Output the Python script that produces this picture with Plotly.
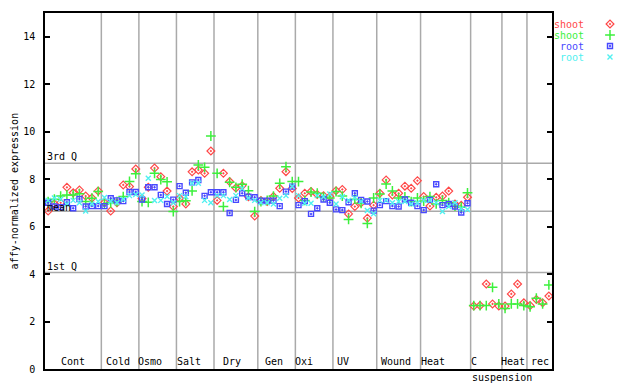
import plotly.graph_objects as go

# ---------------- data ----------------
groups = ["Cont", "Cold", "Osmo", "Salt", "Dry", "Gen", "Oxi", "UV", "Wound", "Heat", "C", "Heat", "rec"]
group_sizes = [9, 6, 6, 6, 7, 6, 6, 7, 7, 8, 5, 4, 4]

shoot_a = [6.65, 6.95, 7.00, 7.65, 7.42, 7.54, 7.28, 7.20, 7.50,
           7.00, 6.65, 7.00, 7.75, 7.68, 8.42,
           7.18, 7.65, 8.46, 8.10, 7.49, 6.84,
           7.19, 6.95, 8.30, 8.38, 8.24, 9.18,
           7.10, 8.24, 7.89, 7.62, 7.72, 7.25, 6.44,
           7.10, 7.05, 7.26, 7.61, 8.31, 7.60,
           7.20, 7.40, 7.47, 7.35, 7.30, 7.26,
           7.51, 7.56, 6.53, 6.84, 7.00, 6.35, 6.90,
           7.40, 7.96, 7.33, 7.40, 7.70, 7.61, 7.93,
           7.26, 6.86, 7.23, 7.28, 7.49, 6.95, 6.90, 7.23,
           2.65, 2.67, 3.58, 2.74, 2.65,
           2.65, 3.16, 3.58, 2.79,
           2.67, 2.93, 2.79, 3.07]
shoot_b = [7.05, 7.15, 7.28, 7.33, 7.33, 7.38, 7.05, 7.19, 7.47,
           6.95, 7.00, 7.05, 7.26, 7.90, 8.22,
           7.05, 7.02, 8.24, 7.98, 7.88, 6.63,
           7.05, 7.08, 7.50, 8.59, 8.49, 9.81,
           8.24, 6.84, 7.86, 7.65, 7.78, 7.51, 6.63,
           7.05, 7.10, 7.28, 7.82, 8.52, 7.89,
           7.89, 7.10, 7.45, 7.40, 7.24, 7.20,
           7.47, 7.28, 6.30, 7.15, 6.98, 6.13, 7.20,
           7.37, 7.79, 7.50, 7.20, 7.25, 7.05, 7.20,
           7.07, 7.26, 6.95, 7.10, 7.00, 6.86, 6.81, 7.42,
           2.67, 2.67, 2.67, 3.44, 2.74,
           2.55, 2.74, 2.74, 2.67,
           2.62, 2.98, 2.74, 3.54]
root_a = [7.00, 6.84, 6.81, 7.02, 6.77, 7.16, 6.84, 6.86, 6.86,
          6.86, 7.19, 7.10, 7.07, 7.45, 7.45,
          7.14, 7.65, 7.65, 7.33, 6.95, 7.13,
          7.70, 7.42, 7.86, 7.96, 7.29, 7.44,
          7.44, 7.44, 6.57, 7.12, 7.40, 7.26, 7.23,
          7.09, 7.09, 7.09, 6.86, 7.47, 7.68,
          6.90, 7.07, 6.53, 6.77, 7.14, 7.00,
          6.72, 6.69, 7.02, 7.40, 7.12, 7.05, 6.67,
          6.90, 7.07, 6.86, 6.84, 7.14, 7.00, 6.86,
          6.69, 7.12, 7.78, 6.90, 6.95, 6.84, 6.59, 6.98,
          None, None, None, None, None,
          None, None, None, None,
          None, None, None, None]
root_b = [7.10, 7.20, 7.15, 6.95, 7.10, 7.00, 6.65, 6.95, 7.05,
          7.22, 7.05, 7.00, 7.15, 7.30, 7.35,
          7.33, 8.03, 7.09, 7.10, 7.26, 7.00,
          7.30, 7.25, 7.82, 7.82, 7.10, 7.00,
          7.30, 7.30, 7.14, 7.30, 7.60, 7.20, 7.10,
          7.00, 7.00, 6.95, 7.19, 7.30, 7.68,
          7.30, 6.98, 6.98, 7.30, 7.25, 7.37,
          6.95, 7.25, 7.10, 7.20, 7.05, 6.67, 6.54,
          7.10, 7.10, 7.00, 7.05, 7.05, 6.95, 7.00,
          7.10, 7.10, 7.00, 6.63, 6.84, 7.00, 6.75, 6.72,
          None, None, None, None, None,
          None, None, None, None,
          None, None, None, None]

ref_lines = {"3rd Q": 8.66, "mean": 6.64, "1st Q": 4.06}
y_ticks = [0, 2, 4, 6, 8, 10, 12, 14]
legend_names = ["shoot", "shoot", "root", "root"]

# label placement (data-x centres), style only
label_x = [3.93, 11.16, 16.32, 22.46, 29.37, 36.08, 40.87, 47.11, 55.52, 61.43, 68.03, 74.31, 78.57]
sub_label = ("suspension", 72.58)

# ---------------- figure ----------------
# the page body has an 8px margin, so figure pixel = window pixel - 8
OFF = 8
W, H = 640 - OFF, 384 - OFF
PL, PR, PT, PB = 45 - OFF, 552 - OFF, 12.75 - OFF, 369 - OFF
FONT = "DejaVu Sans Mono"

n = sum(group_sizes)
xs = list(range(n))

colors = ["#ff4848", "#3cf03c", "#4848ff", "#50f0f0"]
styles = [
    dict(symbol="diamond-open-dot", size=6, line=dict(width=1.2, color=colors[0])),
    dict(symbol="cross-thin-open", size=7, line=dict(width=1.5, color=colors[1])),
    dict(symbol="square-open-dot", size=5, line=dict(width=1.4, color=colors[2])),
    dict(symbol="x-thin-open", size=5, line=dict(width=1.4, color=colors[3])),
]
series = [shoot_a, shoot_b, root_a, root_b]

fig = go.Figure()
for s, st, c in zip(series, styles, colors):
    fig.add_trace(go.Scatter(x=xs, y=s, mode="markers", marker=dict(color=c, **st),
                             showlegend=False, cliponaxis=False))

# legend keys on an auxiliary axis
for k, (st, c) in enumerate(zip(styles, colors)):
    fig.add_trace(go.Scatter(x=[0.5], y=[k], mode="markers", marker=dict(color=c, **st),
                             xaxis="x2", yaxis="y2", showlegend=False, hoverinfo="skip"))

shapes = []
b = -0.5
for g in group_sizes[:-1]:
    b += g
    shapes.append(dict(type="line", xref="x", yref="y", x0=b, x1=b, y0=0, y1=15,
                       line=dict(color="#aaaaaa", width=1.5), layer="below"))
for name, v in ref_lines.items():
    shapes.append(dict(type="line", xref="x", yref="y", x0=-0.5, x1=n - 0.5, y0=v, y1=v,
                       line=dict(color="#aaaaaa", width=1.5), layer="below"))

ann = []
for name, v in ref_lines.items():
    ann.append(dict(x=-0.5, y=v, xref="x", yref="y", text=name, showarrow=False,
                    xanchor="left", yanchor="bottom", yshift=-4 if name == "mean" else -1,
                    font=dict(family=FONT, size=10, color="black")))
for g, lx in zip(groups, label_x):
    ann.append(dict(x=lx, y=0, xref="x", yref="y", text=g, showarrow=False,
                    xanchor="center", yanchor="bottom", yshift=0,
                    font=dict(family=FONT, size=10, color="black")))
ann.append(dict(x=sub_label[1], y=0, xref="x", yref="y", text=sub_label[0], showarrow=False,
                xanchor="center", yanchor="top", yshift=-1,
                font=dict(family=FONT, size=10, color="black")))
ann.append(dict(x=(14.5 - OFF) / W, y=((H - PB) + (H - PT)) / 2 / H, xref="paper", yref="paper",
                text="affy-normalized expression", textangle=-90, showarrow=False,
                xanchor="center", yanchor="middle",
                font=dict(family=FONT, size=10, color="black")))
for k, (nm, c) in enumerate(zip(legend_names, colors)):
    ann.append(dict(x=(586 - OFF) / W, y=k, xref="paper", yref="y2", text=nm, showarrow=False,
                    xanchor="right", yanchor="middle",
                    font=dict(family=FONT, size=10, color=c)))

LEG_TOP, LEG_BOT = 18.5 - OFF, 62.5 - OFF
fig.update_layout(
    width=W, height=H, margin=dict(l=0, r=0, t=0, b=0, autoexpand=False),
    paper_bgcolor="white", plot_bgcolor="white",
    shapes=shapes, annotations=ann, showlegend=False,
    xaxis=dict(domain=[PL / W, PR / W], range=[-0.5, n - 0.5], showgrid=False, zeroline=False,
               showline=True, linecolor="black", linewidth=1.5, mirror=True, automargin=False,
               ticks="", showticklabels=False, fixedrange=True),
    yaxis=dict(domain=[(H - PB) / H, (H - PT) / H], range=[0, 15], tickvals=y_ticks,
               showgrid=False, zeroline=False, showline=True, linecolor="black", linewidth=1.5,
               mirror="ticks", ticks="inside", ticklen=5, tickwidth=1.5, tickcolor="black",
               ticklabelstandoff=6, automargin=False,
               tickfont=dict(family=FONT, size=10, color="black"), fixedrange=True),
    xaxis2=dict(domain=[(600 - OFF) / W, (620 - OFF) / W], range=[0, 1], visible=False,
                fixedrange=True, automargin=False),
    yaxis2=dict(domain=[(H - LEG_BOT) / H, (H - LEG_TOP) / H], range=[3.5, -0.5], visible=False,
                fixedrange=True, anchor="x2", automargin=False),
)

fig.write_html("out.html")
